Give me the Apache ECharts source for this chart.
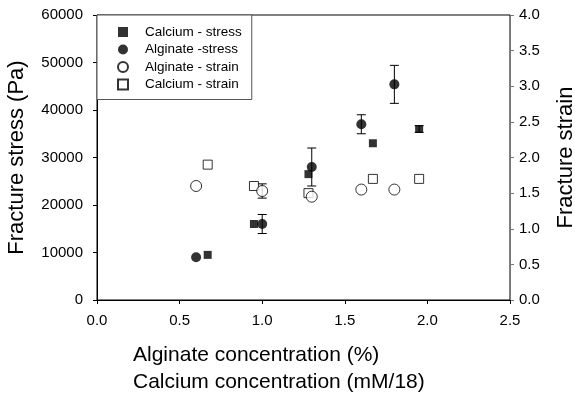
<!DOCTYPE html>
<html>
<head>
<meta charset="utf-8">
<script src="https://cdn.jsdelivr.net/npm/echarts@6/dist/echarts.min.js"></script>
<style>
  html, body { margin: 0; padding: 0; background: #fff; overflow: hidden; }
  #main { width: 575px; height: 394px; }
</style>
</head>
<body>
<div id="main"></div>
<script>
// concentrations (x)
const caX = [0.67, 0.95, 1.28, 1.67, 1.95];
const alX = [0.6, 1.0, 1.3, 1.6, 1.8];

// fracture stress (Pa)
const caStress = [9500, 16000, 26500, 33000, 36000];
const caStressErr = [0, 0, 0, 0, 700];
const alStress = [9000, 16000, 28000, 37000, 45400];
const alStressErr = [0, 2000, 4000, 2000, 4000];

// fracture strain
const alStrain = [1.6, 1.53, 1.45, 1.55, 1.55];
const alStrainErr = [0, 0.1, 0, 0, 0];
const caStrain = [1.9, 1.6, 1.5, 1.7, 1.7];

const font = "'Liberation Sans', Arial, sans-serif";

function pairs(xs, ys) {
  return xs.map((x, i) => [x, ys[i]]);
}
function errRows(xs, ys, es) {
  let out = [];
  xs.forEach((x, i) => { if (es[i] > 0) out.push([x, ys[i], es[i]]); });
  return out;
}

function renderErr(params, api) {
  let x = api.value(0), y = api.value(1), e = api.value(2);
  let hi = api.coord([x, y + e]);
  let lo = api.coord([x, y - e]);
  let w = 4.5;
  let st = { stroke: '#000', lineWidth: 1 };
  return {
    type: 'group',
    children: [
      { type: 'line', shape: { x1: hi[0], y1: hi[1], x2: lo[0], y2: lo[1] }, style: st },
      { type: 'line', shape: { x1: hi[0] - w, y1: hi[1], x2: hi[0] + w, y2: hi[1] }, style: st },
      { type: 'line', shape: { x1: lo[0] - w, y1: lo[1], x2: lo[0] + w, y2: lo[1] }, style: st }
    ]
  };
}

let myChart = echarts.init(document.getElementById('main'), null, { renderer: 'canvas' });

let option = {
  animation: false,
  textStyle: { fontFamily: font, color: '#000' },
  grid: {
    left: 97, right: 65, top: 15, bottom: 94,
    outerBoundsMode: 'none',
    show: true, borderColor: '#000', borderWidth: 1
  },
  legend: {
    orient: 'vertical',
    left: 97, top: 15,
    padding: [10, 10, 8, 20],
    itemWidth: 10, itemHeight: 10,
    itemGap: 3.5,
    borderColor: '#555', borderWidth: 1,
    backgroundColor: '#fff',
    textStyle: { fontFamily: font, fontSize: 13.5, color: '#000', padding: [0, 0, 0, 12] },
    data: ['Calcium - stress', 'Alginate -stress', 'Alginate - strain', 'Calcium - strain']
  },
  xAxis: {
    type: 'value',
    min: 0, max: 2.5, interval: 0.5,
    axisLine: { lineStyle: { color: '#000' } },
    axisTick: { show: true, length: 4, lineStyle: { color: '#000' } },
    splitLine: { show: false },
    axisLabel: { fontSize: 15, color: '#000', margin: 13, formatter: v => v.toFixed(1) }
  },
  yAxis: [
    {
      type: 'value',
      min: 0, max: 60000, interval: 10000,
      name: 'Fracture stress (Pa)',
      nameLocation: 'middle',
      nameRotate: 90,
      nameGap: 69,
      nameTextStyle: { fontSize: 22, color: '#000' },
      axisLine: { show: true, lineStyle: { color: '#000' } },
      axisTick: { show: true, length: 4, lineStyle: { color: '#000' } },
      splitLine: { show: false },
      axisLabel: { fontSize: 15, color: '#000', margin: 14, formatter: v => String(v) }
    },
    {
      type: 'value',
      position: 'right',
      min: 0, max: 4, interval: 0.5,
      name: 'Fracture strain',
      nameLocation: 'middle',
      nameRotate: 90,
      nameGap: 45,
      nameTextStyle: { fontSize: 22, color: '#000' },
      axisLine: { show: true, lineStyle: { color: '#777' } },
      axisTick: { show: true, length: 4, lineStyle: { color: '#777' } },
      splitLine: { show: false },
      axisLabel: { fontSize: 15, color: '#000', margin: 9, formatter: v => v.toFixed(1) }
    }
  ],
  graphic: [
    {
      type: 'text',
      left: 133, top: 342,
      style: {
        text: 'Alginate concentration (%)\nCalcium concentration (mM/18)',
        font: '21px ' + font,
        fill: '#000',
        lineHeight: 27
      }
    }
  ],
  series: [
    {
      type: 'custom', yAxisIndex: 0, z: 1,
      renderItem: renderErr,
      data: errRows(alX, alStress, alStressErr).concat(errRows(caX, caStress, caStressErr))
    },
    {
      type: 'custom', yAxisIndex: 1, z: 1,
      renderItem: renderErr,
      data: errRows(alX, alStrain, alStrainErr)
    },
    {
      name: 'Calcium - strain', type: 'scatter', yAxisIndex: 1, z: 2,
      symbol: 'rect', symbolSize: 9,
      itemStyle: { color: '#fff', borderColor: '#000', borderWidth: 1 },
      data: pairs(caX, caStrain)
    },
    {
      name: 'Alginate - strain', type: 'scatter', yAxisIndex: 1, z: 2,
      symbol: 'circle', symbolSize: 11,
      itemStyle: { color: '#fff', borderColor: '#000', borderWidth: 1 },
      data: pairs(alX, alStrain)
    },
    {
      name: 'Calcium - stress', type: 'scatter', yAxisIndex: 0, z: 3,
      symbol: 'rect', symbolSize: 8,
      itemStyle: { color: '#000' },
      data: pairs(caX, caStress)
    },
    {
      name: 'Alginate -stress', type: 'scatter', yAxisIndex: 0, z: 3,
      symbol: 'circle', symbolSize: 10,
      itemStyle: { color: '#000' },
      data: pairs(alX, alStress)
    }
  ]
};

option && myChart.setOption(option);
</script>
</body>
</html>
